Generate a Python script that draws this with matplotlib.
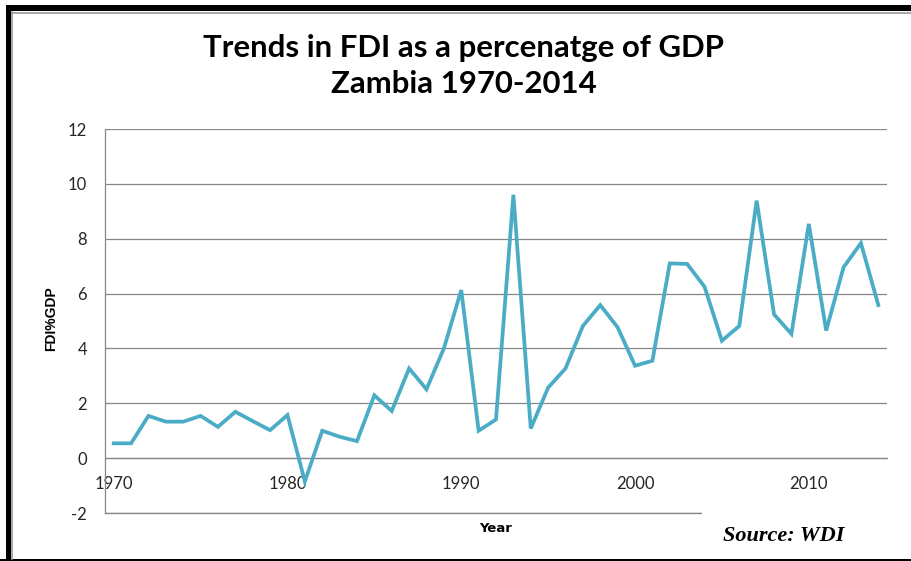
import matplotlib
matplotlib.use("Agg")
import matplotlib.pyplot as plt
from matplotlib.patches import Rectangle
from matplotlib.lines import Line2D

years = list(range(1970, 2015))
fdi_pct_gdp = [0.54, 0.54, 1.54, 1.33, 1.33, 1.54, 1.14, 1.69, 1.35, 1.02,
               1.57, -0.85, 1.00, 0.78, 0.62, 2.29, 1.72, 3.27, 2.51, 4.00,
               6.13, 1.00, 1.41, 9.60, 1.08, 2.57, 3.27, 4.82, 5.58, 4.77,
               3.37, 3.55, 7.10, 7.08, 6.25, 4.28, 4.82, 9.39, 5.24, 4.53,
               8.54, 4.65, 6.96, 7.84, 5.58]
y_ticks = [-2, 0, 2, 4, 6, 8, 10, 12]
x_ticks = [1970, 1980, 1990, 2000, 2010]
x_tick_labels = ["1970", "1980", "1990", "2000", "2010"]

W, H = 912, 561
fig = plt.figure(figsize=(W / 100, H / 100), dpi=100)


def fx(px):
    return px / W


def fy(py):
    return 1 - py / H


ax = fig.add_axes([fx(105), fy(513), fx(887) - fx(105), fy(129) - fy(513)])
grid_c = "#868686"
ax.plot(years, fdi_pct_gdp, color="#4BACC6", lw=2.7, solid_joinstyle="miter",
        zorder=3, clip_on=False)
ax.set_xlim(1969.5, 2014.5)
ax.set_ylim(-2, 12)
ax.set_yticks(y_ticks)
ax.set_yticklabels([str(v) for v in y_ticks])
ax.set_xticks(x_ticks)
ax.set_xticklabels(x_tick_labels)
ax.grid(axis="y", color=grid_c, lw=0.9)
ax.set_axisbelow(True)
for s in ["top", "right"]:
    ax.spines[s].set_visible(False)
ax.spines["left"].set_color(grid_c)
ax.spines["left"].set_linewidth(0.9)
ax.spines["bottom"].set_position(("data", 0))
ax.spines["bottom"].set_color(grid_c)
ax.spines["bottom"].set_linewidth(0.9)
ax.tick_params(axis="both", length=0, labelcolor="#262626")
ax.tick_params(axis="y", pad=13)
ax.tick_params(axis="x", pad=13)
for lab in ax.get_xticklabels() + ax.get_yticklabels():
    lab.set_fontfamily("Lato")
    lab.set_fontsize(12)
# bottom border line of plot area at -2
ax.axhline(-2, color=grid_c, lw=1.0, clip_on=False, zorder=1)

# white box covering the lower right (source area)
fig.add_artist(Rectangle((fx(702), fy(556)), fx(W) - fx(702), fy(506) - fy(556),
                         transform=fig.transFigure, facecolor="white",
                         edgecolor="none", zorder=5))

# titles and labels
fig.text(fx(464), fy(47.5), "Trends in FDI as a percenatge of GDP", ha="center",
         va="center", fontsize=22.4, fontweight="bold", family="Lato", color="black")
fig.text(fx(464), fy(84), "Zambia 1970-2014", ha="center", va="center",
         fontsize=22.4, fontweight="bold", family="Lato", color="black")
fig.text(fx(51), fy(319), "FDI%GDP", rotation=90, ha="center", va="center",
         fontsize=10, fontweight="bold", family="Liberation Sans", color="black")
fig.text(fx(496), fy(528), "Year", ha="center", va="center",
         fontsize=9.5, fontweight="bold", family="DejaVu Sans", color="black")
fig.text(fx(784), fy(536), "Source: WDI", ha="center", va="center",
         fontsize=16, fontweight="bold", fontstyle="italic",
         family="Liberation Serif", color="black", zorder=6)

# frame
fig.add_artist(Rectangle((fx(6), fy(561)), fx(5), fy(5) - fy(561),
                         transform=fig.transFigure, facecolor="black",
                         edgecolor="none", zorder=7))
fig.add_artist(Rectangle((fx(6), fy(11)), fx(W) - fx(6), fy(5) - fy(11),
                         transform=fig.transFigure, facecolor="black",
                         edgecolor="none", zorder=7))
fig.add_artist(Rectangle((0, fy(561)), 1, fy(559) - fy(561),
                         transform=fig.transFigure, facecolor="black",
                         edgecolor="none", zorder=7))
fig.add_artist(Line2D([fx(12.5), fx(12.5)], [fy(12), fy(559)],
                      transform=fig.transFigure, color="#9a9a9a", lw=1.2, zorder=7))
fig.add_artist(Line2D([fx(12), 1], [fy(12.5), fy(12.5)],
                      transform=fig.transFigure, color="#9a9a9a", lw=1.2, zorder=7))

fig.savefig("out.png", dpi=100, facecolor="white")
